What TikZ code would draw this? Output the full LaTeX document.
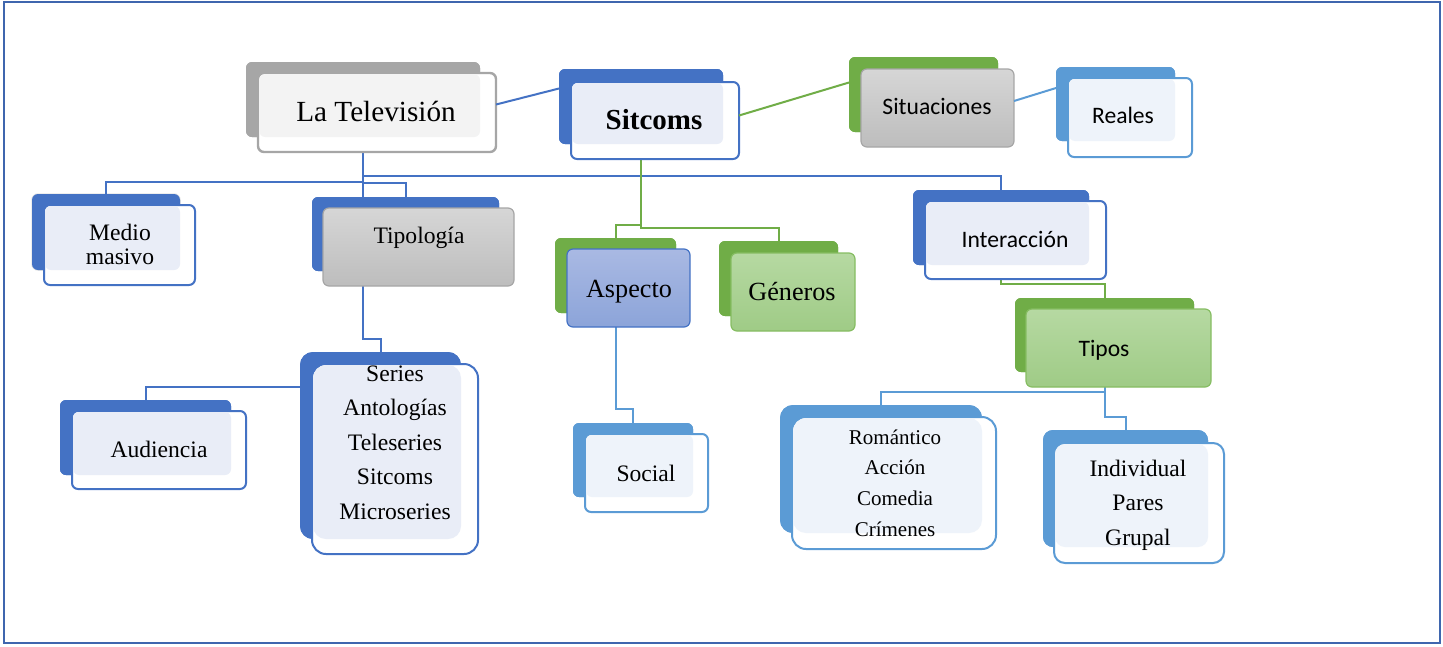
\documentclass[tikz,border=0pt]{standalone}
\usepackage{fontspec}
\setmainfont{Liberation Serif}
\newfontfamily\calfont{Carlito}
\usetikzlibrary{fit}
\definecolor{cB}{HTML}{4472C4}
\definecolor{cM}{HTML}{5B9BD5}
\definecolor{cG}{HTML}{70AD47}
\definecolor{cK}{HTML}{A6A6A6}
\definecolor{lB}{HTML}{E9EDF7}
\definecolor{lM}{HTML}{EEF3FA}
\definecolor{lK}{HTML}{F3F3F3}
\definecolor{gT}{HTML}{D6D6D6}
\definecolor{gB}{HTML}{BDBDBD}
\definecolor{grT}{HTML}{B6D9A2}
\definecolor{grB}{HTML}{9FCB86}
\definecolor{grD}{HTML}{86BD62}
\definecolor{aT}{HTML}{A9B9E3}
\definecolor{aB}{HTML}{8CA4D9}
\definecolor{frameC}{HTML}{3F66AE}
\tikzset{
  cbox/.style={inner sep=0pt, outer sep=0pt, rounded corners=#1},
  cbox/.default=6pt,
  bkB/.style={cbox=#1, fill=cB}, bkB/.default=6pt,
  bkM/.style={cbox=#1, fill=cM}, bkM/.default=6pt,
  bkG/.style={cbox=#1, fill=cG}, bkG/.default=6pt,
  bkK/.style={cbox=#1, fill=cK}, bkK/.default=6pt,
  frB/.style={cbox=#1, fill=white, draw=cB, line width=2pt}, frB/.default=6pt,
  frM/.style={cbox=#1, fill=white, draw=cM, line width=2pt}, frM/.default=6pt,
  frK/.style={cbox=#1, fill=white, draw=cK, line width=2.4pt}, frK/.default=6pt,
  frGray/.style={cbox, top color=gT, bottom color=gB, draw=cK, line width=1.2pt},
  frGreen/.style={cbox, top color=grT, bottom color=grB, draw=grD, line width=1.2pt},
  frAsp/.style={cbox, top color=aT, bottom color=aB, draw=cB, line width=1.2pt},
  ovB/.style={fill=lB, rounded corners=#1}, ovB/.default=6pt,
  ovM/.style={fill=lM, rounded corners=#1}, ovM/.default=6pt,
  ovK/.style={fill=lK, rounded corners=#1}, ovK/.default=6pt,
  conB/.style={draw=cB, line width=2pt},
  conM/.style={draw=cM, line width=2pt},
  conG/.style={draw=cG, line width=2pt},
  tx/.style={inner sep=0pt, anchor=base, font=\fontsize{23.6pt}{28pt}\selectfont},
  txs/.style={inner sep=0pt, anchor=base, font=\calfont\fontsize{23.6pt}{28pt}\selectfont},
  txl/.style={inner sep=0pt, anchor=base, font=\fontsize{26.2pt}{30pt}\selectfont},
  txr/.style={inner sep=0pt, anchor=base, font=\fontsize{21pt}{25pt}\selectfont},
}
\begin{document}
\begin{tikzpicture}[x=1pt,y=-1pt]
\useasboundingbox (0,0) rectangle (1443,646);
\draw[frameC, line width=2pt] (4,1.5) rectangle (1440,643);

% back boxes (named, for connectors)
\node[bkK, fit={(246,62)(480,137)}] (tvB) {};
\node[bkB, fit={(559,69)(723,144)}] (sitB) {};
\node[bkG, fit={(849,57)(998,132)}] (stnB) {};
\node[bkM, fit={(1056,67)(1175,141)}] (reaB) {};
\node[bkB, fit={(32,194)(180,270)}, draw=gray!20, line width=1.5pt] (mmB) {};
\node[bkB, fit={(312,197)(499,271)}] (tipB) {};
\node[bkB, fit={(913,190)(1089,265)}] (intB) {};
\node[bkG, fit={(555,238)(676,313)}] (aspB) {};
\node[bkG, fit={(719,241)(838,316)}] (genB) {};
\node[bkG, fit={(1015,298)(1194,372)}] (tpsB) {};
\node[bkB, fit={(60,400)(231,475)}] (audB) {};
\node[bkB=13pt, fit={(300,352)(461,539)}] (serB) {};
\node[bkM, fit={(573,423)(693,497)}] (socB) {};
\node[bkM=13pt, fit={(780,405)(982,533)}] (romB) {};
\node[bkM=10pt, fit={(1043,430)(1208,547)}] (indB) {};

% connectors
\draw[conB] (tvB.south) -- ++(0,45) -| (mmB.north);
\draw[conB] (tvB.south) -- ++(0,46) -| (tipB.north);
\draw[conB] (tvB.south) -- ++(0,39) -| (intB.north);
\draw[conB] (tvB.south) -- ++(0,202) -| (serB.north);
\draw[conG] (sitB.south) -- ++(0,81) -| (aspB.north);
\draw[conG] (sitB.south) -- ++(0,84) -| (genB.north);
\draw[conB] ([yshift=59pt]serB.west) -| (audB.north);
\draw[conM] (aspB.south) -- ++(0,96) -| (socB.north);
\draw[conG] (intB.south) -- ++(0,19) -| (tpsB.north);
\draw[conM] (tpsB.south) -- ++(0,20) -| (romB.north);
\draw[conM] (tpsB.south) -- ++(0,45) -| (indB.north);

% back boxes redrawn above the connectors
\foreach \n/\s in {tvB/bkK,sitB/bkB,stnB/bkG,reaB/bkM,mmB/bkB,tipB/bkB,intB/bkB,aspB/bkG,genB/bkG,tpsB/bkG,audB/bkB,socB/bkM}
  \fill[\s] (\n.north west) rectangle (\n.south east);
\fill[bkB=13pt] (serB.north west) rectangle (serB.south east);
\fill[bkM=13pt] (romB.north west) rectangle (romB.south east);
\fill[bkM=10pt] (indB.north west) rectangle (indB.south east);

% front boxes
\node[frK, fit={(258,73)(496,152)}] (tvF) {};
\node[frB, fit={(571,82)(739,159)}] (sitF) {};
\node[frGray, fit={(861,69)(1014,147)}] (stnF) {};
\node[frM, fit={(1068,78)(1192,157)}] (reaF) {};
\node[frB, fit={(44,205)(195,285)}] (mmF) {};
\node[frGray, fit={(323,208)(514,286)}] (tipF) {};
\node[frB, fit={(925,201)(1106,279)}] (intF) {};
\node[frAsp, fit={(567,249)(690,327)}] (aspF) {};
\node[frGreen, fit={(731,253)(855,331)}] (genF) {};
\node[frGreen, fit={(1026,309)(1211,387)}] (tpsF) {};
\node[frB, fit={(72,411)(246,489)}] (audF) {};
\node[frB=14pt, fit={(312,364)(478,554)}] (serF) {};
\node[frM, fit={(585,434)(708,512)}] (socF) {};
\node[frM=14pt, fit={(792,417)(996,549)}] (romF) {};
\node[frM=11pt, fit={(1054,443)(1224,563)}] (indF) {};

% light overlap areas
\fill[ovK] ([shift={(1.2,1.2)}]tvF.north west) rectangle (tvB.south east);
\fill[ovB] ([shift={(1,1)}]sitF.north west) rectangle (sitB.south east);
\fill[ovM] ([shift={(1,1)}]reaF.north west) rectangle (reaB.south east);
\fill[ovB] ([shift={(1,1)}]mmF.north west) rectangle (mmB.south east);
\fill[ovB] ([shift={(1,1)}]intF.north west) rectangle (intB.south east);
\fill[ovB] ([shift={(1,1)}]audF.north west) rectangle (audB.south east);
\fill[ovB=13pt] ([shift={(1,1)}]serF.north west) rectangle (serB.south east);
\fill[ovM] ([shift={(1,1)}]socF.north west) rectangle (socB.south east);
\fill[ovM=13pt] ([shift={(1,1)}]romF.north west) rectangle (romB.south east);
\fill[ovM=10pt] ([shift={(1,1)}]indF.north west) rectangle (indB.south east);

% connectors drawn over the boxes' sides
\draw[conB] ([yshift=8pt]tvF.east) -- ([yshift=18pt]sitB.west);
\draw[conG] ([yshift=5pt]sitF.east) -- ([yshift=12pt]stnB.west);
\draw[conM] ([yshift=7pt]stnF.east) -- ([yshift=16pt]reaB.west);

% texts
\node[tx, font=\fontsize{29.2pt}{34pt}\selectfont] (tvT) at (376,121) {La Televisión};
\node[tx, font=\bfseries\fontsize{29pt}{34pt}\selectfont] (sitT) at (654,129) {Sitcoms};
\node[txs] (stnT) at (937,114) {Situaciones};
\node[txs] (reaT) at (1123,123) {Reales};
\node[tx] (mmT1) at (120,240) {Medio};
\node[tx] (mmT2) at (120,264) {masivo};
\node[tx] (tipT) at (419,243) {Tipología};
\node[txs] (intT) at (1015,247) {Interacción};
\node[txl] (aspT) at (629,297) {Aspecto};
\node[txl] (genT) at (792,300) {Géneros};
\node[txs] (tpsT) at (1104,356) {Tipos};
\node[tx] (audT) at (159,457) {Audiencia};
\node[tx] (socT) at (646,481) {Social};
\foreach \t [count=\i] in {Series,Antologías,Teleseries,Sitcoms,Microseries}
  \node[tx] (serT\i) at (395,{381+34.5*(\i-1)}) {\t};
\foreach \t [count=\i] in {Romántico,Acción,Comedia,Crímenes}
  \node[txr] (romT\i) at (895,{444+30.7*(\i-1)}) {\t};
\foreach \t [count=\i] in {Individual,Pares,Grupal}
  \node[tx] (indT\i) at (1138,{476+34.5*(\i-1)}) {\t};
\end{tikzpicture}
\end{document}
